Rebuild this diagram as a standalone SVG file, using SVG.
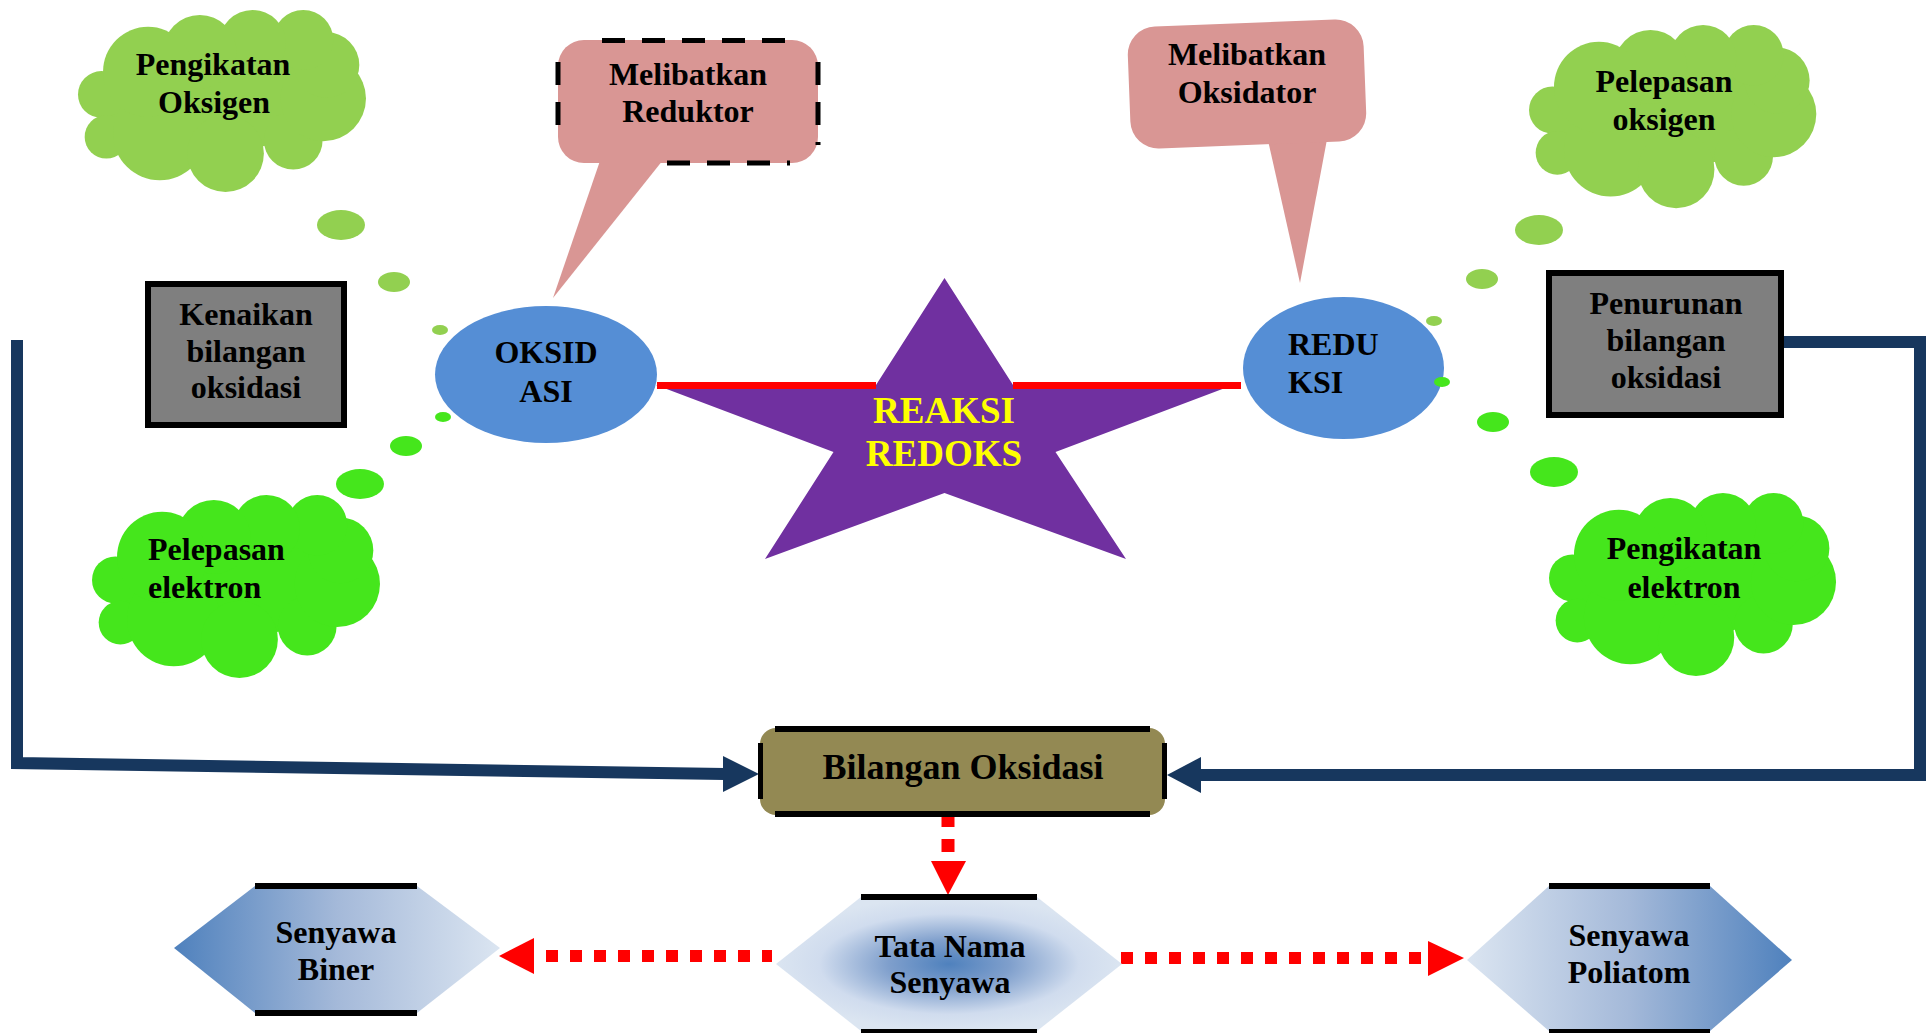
<svg xmlns="http://www.w3.org/2000/svg" xmlns:xlink="http://www.w3.org/1999/xlink" width="1926" height="1033" viewBox="0 0 1926 1033">
<style>
text{font-family:"Liberation Serif","Times New Roman",serif;font-weight:bold;fill:#000;text-anchor:middle}
.t32{font-size:32px}
.lg{fill:#92d050}
.bg{fill:#45e61c}
.gbox{fill:#7f7f7f;stroke:#000;stroke-width:6}
.callout{fill:#d99694}
.navy{fill:none;stroke:#17375e;stroke-width:12;stroke-linejoin:miter}
.navyhead{fill:#17375e}
.rdash{fill:none;stroke:#ff0000;stroke-width:12;stroke-dasharray:12 12}
.rhead{fill:#ff0000}
.bar{fill:#000}
</style>
<defs>
<g id="cloudShape">
<polygon points="125,283 140,410 300,400 497,460 700,420 790,295 800,195 730,120 578,130 420,155 265,215"/>
<circle cx="125" cy="283" r="70"/>
<circle cx="140" cy="410" r="65"/>
<circle cx="300" cy="400" r="140"/>
<circle cx="497" cy="460" r="115"/>
<circle cx="700" cy="420" r="88"/>
<circle cx="790" cy="295" r="128"/>
<circle cx="800" cy="195" r="98"/>
<circle cx="730" cy="120" r="90"/>
<circle cx="578" cy="130" r="100"/>
<circle cx="420" cy="155" r="110"/>
<circle cx="265" cy="215" r="135"/>
</g>
<linearGradient id="gBiner" x1="0" y1="0" x2="1" y2="0">
<stop offset="0" stop-color="#4f81bd"/>
<stop offset="0.5" stop-color="#a4b9d9"/>
<stop offset="1" stop-color="#dbe5f1"/>
</linearGradient>
<linearGradient id="gPoli" x1="0" y1="0" x2="1" y2="0">
<stop offset="0" stop-color="#dbe5f1"/>
<stop offset="0.5" stop-color="#a4b9d9"/>
<stop offset="1" stop-color="#4f81bd"/>
</linearGradient>
<radialGradient id="gTata" cx="0.5" cy="0.5" r="0.5">
<stop offset="0" stop-color="#4f81bd"/>
<stop offset="0.35" stop-color="#7f9fcc"/>
<stop offset="0.75" stop-color="#d0dcee"/>
<stop offset="1" stop-color="#dbe5f1"/>
</radialGradient>
</defs>

<g id="connectors">
<path class="navy" d="M17,340 V763 L725,774"/>
<polygon class="navyhead" points="723,756 759,774 723,792"/>
<path class="navy" d="M1784,342 H1920 V775 H1201"/>
<polygon class="navyhead" points="1201,757 1167,775 1201,793"/>
<line x1="948" y1="814" x2="948" y2="861" style="stroke:#ff0000;stroke-width:13;stroke-dasharray:13 12"/>
<polygon class="rhead" points="931,861 966,861 948,895"/>
<line class="rdash" x1="546" y1="956" x2="772" y2="956"/>
<polygon class="rhead" points="534,938 499,956 534,974"/>
<line class="rdash" x1="1121" y1="958" x2="1422" y2="958"/>
<polygon class="rhead" points="1428,941 1464,958 1428,976"/>
</g>

<g id="bubbles">
<ellipse class="lg" cx="341" cy="225" rx="24" ry="15"/>
<ellipse class="lg" cx="394" cy="282" rx="16" ry="10"/>
<ellipse class="lg" cx="440" cy="330" rx="8" ry="5"/>
<ellipse class="bg" cx="443" cy="417" rx="8" ry="5"/>
<ellipse class="bg" cx="406" cy="446" rx="16" ry="10"/>
<ellipse class="bg" cx="360" cy="484" rx="24" ry="15"/>
<ellipse class="lg" cx="1539" cy="230" rx="24" ry="15"/>
<ellipse class="lg" cx="1482" cy="279" rx="16" ry="10"/>
<ellipse class="lg" cx="1434" cy="321" rx="8" ry="5"/>
<ellipse class="bg" cx="1493" cy="422" rx="16" ry="10"/>
<ellipse class="bg" cx="1554" cy="472" rx="24" ry="15"/>
</g>

<g id="cloud-pengikatan-oksigen">
<use xlink:href="#cloudShape" class="lg" transform="translate(78,10) scale(0.3337,0.3339) translate(-55,-30)"/>
<text class="t32" x="213" y="75">Pengikatan</text>
<text class="t32" x="214" y="113">Oksigen</text>
</g>

<g id="cloud-pelepasan-oksigen">
<use xlink:href="#cloudShape" class="lg" transform="translate(1529,25) scale(0.3329,0.3363) translate(-55,-30)"/>
<text class="t32" x="1664" y="92">Pelepasan</text>
<text class="t32" x="1664" y="130">oksigen</text>
</g>

<g id="cloud-pelepasan-elektron">
<use xlink:href="#cloudShape" class="bg" transform="translate(92,495) scale(0.3337,0.3358) translate(-55,-30)"/>
<text class="t32" x="148" y="560" style="text-anchor:start">Pelepasan</text>
<text class="t32" x="148" y="598" style="text-anchor:start">elektron</text>
</g>

<g id="cloud-pengikatan-elektron">
<use xlink:href="#cloudShape" class="bg" transform="translate(1549,493) scale(0.3326,0.3358) translate(-55,-30)"/>
<text class="t32" x="1684" y="559">Pengikatan</text>
<text class="t32" x="1684" y="598">elektron</text>
</g>

<g id="callout-reduktor">
<polygon class="callout" points="602,155 667,155 553,298"/>
<rect class="callout" x="558" y="40" width="260" height="123" rx="26"/>
<g style="stroke:#000;stroke-width:5;stroke-dasharray:23 17;fill:none">
<line x1="602" y1="40.5" x2="790" y2="40.5"/>
<line x1="667" y1="163" x2="790" y2="163"/>
<line x1="558" y1="62" x2="558" y2="140"/>
<line x1="818" y1="62" x2="818" y2="145"/>
</g>
<text class="t32" x="688" y="85">Melibatkan</text>
<text class="t32" x="688" y="122">Reduktor</text>
</g>

<g id="callout-oksidator">
<polygon class="callout" points="1267,136 1328,134 1300,283"/>
<rect class="callout" x="1129" y="23" width="236" height="122" rx="28" transform="rotate(-2.2 1247 84)"/>
<text class="t32" x="1247" y="65">Melibatkan</text>
<text class="t32" x="1247" y="103">Oksidator</text>
</g>

<g id="box-kenaikan">
<rect class="gbox" x="148" y="284" width="196" height="141"/>
<text class="t32" x="246" y="325">Kenaikan</text>
<text class="t32" x="246" y="362">bilangan</text>
<text class="t32" x="246" y="398">oksidasi</text>
</g>

<g id="box-penurunan">
<rect class="gbox" x="1549" y="273" width="232" height="142"/>
<text class="t32" x="1666" y="314">Penurunan</text>
<text class="t32" x="1666" y="351">bilangan</text>
<text class="t32" x="1666" y="388">oksidasi</text>
</g>

<g id="star-reaksi-redoks">
<polygon fill="#7030a0" points="944.5,278 1013,385 1233,385 1055.5,452 1126,559 944.5,493 765,559 833.5,452 656,385 876,385"/>
<line x1="657" y1="385.5" x2="876" y2="385.5" stroke="#ff0000" stroke-width="7"/>
<line x1="1013" y1="385.5" x2="1241" y2="385.5" stroke="#ff0000" stroke-width="7"/>
<text x="944" y="423" style="font-size:37px;fill:#ffff00">REAKSI</text>
<text x="944" y="466" style="font-size:37px;fill:#ffff00">REDOKS</text>
</g>

<g id="oksidasi">
<ellipse cx="546" cy="374.5" rx="111" ry="68.5" fill="#558ed5"/>
<text class="t32" x="546" y="363">OKSID</text>
<text class="t32" x="546" y="402">ASI</text>
</g>

<g id="reduksi">
<ellipse cx="1343.5" cy="368" rx="100.5" ry="71" fill="#558ed5"/>
<text class="t32" x="1288" y="355" style="text-anchor:start">REDU</text>
<text class="t32" x="1288" y="393" style="text-anchor:start">KSI</text>
<ellipse class="bg" cx="1442" cy="382" rx="8" ry="5"/>
</g>

<g id="bilangan-oksidasi">
<rect x="760" y="728" width="405" height="87" rx="16" fill="#938953"/>
<rect class="bar" x="775" y="726" width="375" height="6"/>
<rect class="bar" x="775" y="811" width="375" height="6"/>
<rect class="bar" x="758" y="743" width="5" height="56"/>
<rect class="bar" x="1162" y="743" width="5" height="56"/>
<text x="963" y="779" style="font-size:36px">Bilangan Oksidasi</text>
</g>

<g id="senyawa-biner">
<polygon fill="url(#gBiner)" points="255,886 417,886 500,948 417,1013 255,1013 174,948"/>
<rect class="bar" x="255" y="883" width="162" height="6"/>
<rect class="bar" x="255" y="1010" width="162" height="6"/>
<text class="t32" x="336" y="943">Senyawa</text>
<text class="t32" x="336" y="980">Biner</text>
</g>

<g id="tata-nama-senyawa">
<polygon fill="url(#gTata)" points="861,897 1037,897 1122,964 1037,1031 861,1031 776,964"/>
<rect class="bar" x="861" y="894" width="176" height="6"/>
<rect class="bar" x="861" y="1029" width="176" height="6"/>
<text class="t32" x="950" y="957">Tata Nama</text>
<text class="t32" x="950" y="993">Senyawa</text>
</g>

<g id="senyawa-poliatom">
<polygon fill="url(#gPoli)" points="1549,886 1710,886 1792,960 1710,1031 1549,1031 1467,960"/>
<rect class="bar" x="1549" y="883" width="161" height="6"/>
<rect class="bar" x="1549" y="1029" width="161" height="6"/>
<text class="t32" x="1629" y="946">Senyawa</text>
<text class="t32" x="1629" y="983">Poliatom</text>
</g>
</svg>
